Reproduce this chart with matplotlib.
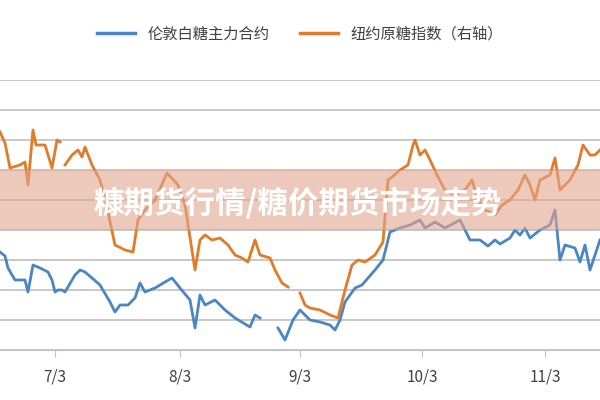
import numpy as np
import matplotlib
matplotlib.use('Agg')
import matplotlib.pyplot as plt
from matplotlib.patches import Rectangle
from matplotlib.lines import Line2D

plt.rcParams['font.family'] = ['Noto Sans CJK SC', 'DejaVu Sans']

# 横坐标（图上位置）与读数高度（距底部）
blue_x = [0, 5, 8, 15, 25, 28, 33, 40, 48, 52, 55, 58, 62, 65, 75, 80, 85, 92, 100, 110, 115, 120, 128, 135, 140,
          145, 155, 165, 172, 180, 190, 195, 200, 205, 215, 225, 235, 250, 255, 260, 268, 278, 285, 293, 300, 310,
          320, 330, 335, 340, 345, 350, 355, 362, 368, 375, 383, 390, 395, 400, 410, 420, 425, 435, 445, 460, 465,
          470, 480, 488, 495, 500, 510, 515, 520, 525, 530, 540, 550, 555, 560, 565, 575, 580, 585, 590, 595, 600]
blue_y = [252, 256, 268, 280, 280, 292, 265, 268, 272, 280, 292, 290, 290, 292, 275, 270, 272, 278, 285, 302, 312,
          305, 305, 298, 283, 292, 288, 282, 278, 288, 300, 328, 295, 305, 300, 310, 318, 327, 315, 318, np.nan, 328,
          340, 320, 310, 320, 322, 325, 330, 320, 302, 295, 288, 285, 278, 270, 260, 232, 230, 228, 225, 220, 228,
          222, 228, 220, 230, 240, 240, 246, 240, 244, 238, 230, 235, 228, 238, 230, 225, 210, 260, 245, 248, 262,
          245, 270, 255, 240]

orange_x = [0, 5, 10, 20, 25, 28, 33, 36, 45, 52, 57, 60, 62, 65, 72, 78, 82, 85, 92, 100, 105, 115, 125, 133, 138,
            145, 155, 167, 178, 185, 195, 200, 205, 212, 220, 228, 235, 242, 248, 255, 260, 270, 275, 282, 288, 294,
            300, 305, 310, 320, 330, 338, 345, 352, 358, 365, 375, 383, 388, 392, 400, 408, 413, 415, 420, 425, 430,
            437, 445, 455, 465, 472, 478, 485, 495, 502, 510, 518, 525, 530, 535, 540, 550, 555, 560, 565, 570, 578,
            583, 590, 595, 600]
orange_y = [132, 143, 168, 165, 162, 185, 130, 145, 145, 168, 140, 142, np.nan, 165, 155, 150, 157, 147, 165, 180,
            198, 245, 250, 252, 220, 210, 200, 173, 185, 205, 270, 240, 235, 240, 238, 245, 255, 258, 262, 240, 255,
            258, 270, 283, 287, np.nan, 293, 305, 308, 310, 315, 318, 290, 265, 260, 262, 255, 242, 180, 177, 170,
            165, 145, 140, 155, 150, 160, 175, 190, 195, 190, 180, 200, 210, 215, 205, 200, 190, 175, 185, 200, 180,
            175, 158, 190, 185, 180, 165, 145, 155, 155, 150]

tick_pos = [55, 180, 300, 422, 545]
tick_labels = ['7/3', '8/3', '9/3', '10/3', '11/3']

blue_v = 350 - np.array(blue_y, dtype=float)
orange_v = 350 - np.array(orange_y, dtype=float)

fig = plt.figure(figsize=(6, 4), dpi=100)
ax = fig.add_axes([0, 0.125, 1, 0.675])
ax.set_xlim(0, 600)
ax.set_ylim(0, 270)
ax.set_yticks(np.arange(0, 271, 30))
ax.yaxis.grid(True, color='#bfbfbf', linewidth=1.2)
ax.set_axisbelow(True)
for s in ['left', 'right', 'top']:
    ax.spines[s].set_visible(False)
ax.spines['bottom'].set_color('#bfbfbf')
ax.tick_params(axis='y', left=False, labelleft=False)
ax.set_xticks(tick_pos)
ax.set_xticklabels(tick_labels, fontsize=11, color='#404040')
ax.tick_params(axis='x', color='#bfbfbf', length=5, pad=8)

ax.plot(blue_x, blue_v, color='#4a86c5', linewidth=2)
ax.plot(orange_x, orange_v, color='#e07b2a', linewidth=2)

# 标题横幅
ax.add_patch(Rectangle((0, 120), 600, 60, transform=ax.transData,
                       facecolor='#e2a58e', alpha=0.6, edgecolor='none', zorder=5))
ax.text(298, 146, '糠期货行情/糖价期货市场走势', ha='center', va='center', fontsize=22,
        fontweight='bold', color='white', zorder=6)

handles = [Line2D([], [], color='#4a86c5', linewidth=2.5),
           Line2D([], [], color='#e07b2a', linewidth=2.5)]
fig.legend(handles, ['伦敦白糖主力合约', '纽约原糖指数（右轴）'], loc='upper center',
           bbox_to_anchor=(0.5, 0.97), ncol=2, frameon=False, fontsize=11,
           labelcolor='#404040', handlelength=2.5, columnspacing=2)

fig.savefig('out.png', dpi=100)
